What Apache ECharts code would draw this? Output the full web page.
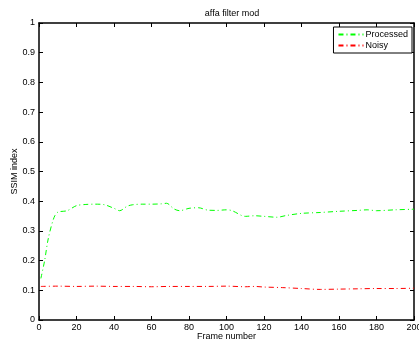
<!DOCTYPE html>
<html><head><meta charset="utf-8">
<script src="https://cdn.jsdelivr.net/npm/echarts@6/dist/echarts.min.js"></script>
<style>html,body{margin:0;padding:0;background:#fff}#c{width:419px;height:344px}</style>
</head><body><div id="c"></div>
<script>
const titleText = "affa filter mod";
const xLabel = "Frame number";
const yLabel = "SSIM index";
const procFrames = [1, 3, 5, 8, 10, 15, 20, 25, 30, 35, 40, 43, 47, 50, 55, 60, 65, 68, 72, 75, 80, 85, 90, 95, 100, 103, 108, 110, 115, 120, 127, 132, 140, 150, 160, 170, 175, 180, 190, 200];
const procValues = [0.14, 0.2, 0.276, 0.345, 0.363, 0.368, 0.385, 0.389, 0.39, 0.388, 0.376, 0.368, 0.383, 0.388, 0.39, 0.39, 0.391, 0.393, 0.374, 0.368, 0.376, 0.378, 0.37, 0.369, 0.371, 0.368, 0.352, 0.349, 0.351, 0.349, 0.346, 0.352, 0.359, 0.362, 0.366, 0.369, 0.371, 0.368, 0.371, 0.373];
const noisyFrames = [1, 10, 20, 30, 40, 50, 60, 70, 80, 90, 100, 110, 115, 120, 130, 140, 150, 160, 170, 180, 190, 200];
const noisyValues = [0.113, 0.114, 0.113, 0.114, 0.113, 0.113, 0.112, 0.113, 0.113, 0.113, 0.114, 0.112, 0.113, 0.111, 0.109, 0.106, 0.103, 0.104, 0.105, 0.106, 0.106, 0.107];
const seriesNames = ["Processed", "Noisy"];

const font = "Liberation Sans, Arial, Helvetica, sans-serif";
const dash = [5, 3, 1, 3];
const chart = echarts.init(document.getElementById('c'), null, {renderer: 'canvas'});
function axisStyle() {
  return {
    axisLine: {show: true, onZero: false, lineStyle: {color: '#000', width: 1.5}},
    axisTick: {show: true, inside: true, length: 4, lineStyle: {color: '#000', width: 1}},
    splitLine: {show: false}
  };
}
chart.setOption({
  animation: false,
  backgroundColor: '#fff',
  title: {text: titleText, left: 227, top: 4, textAlign: 'center',
    textStyle: {fontFamily: font, fontSize: 9, fontWeight: 'normal', color: '#000'}},
  grid: {left: 39, right: 5, top: 23, bottom: 24, containLabel: false, outerBoundsMode: 'none'},
  legend: {
    orient: 'vertical', right: 7, top: 27, padding: [3, 4, 3, 4], itemGap: 2,
    itemWidth: 25, itemHeight: 8, borderColor: '#000', borderWidth: 1, backgroundColor: '#fff',
    itemStyle: {opacity: 0},
    textStyle: {fontFamily: font, fontSize: 9, color: '#000', padding: [0, 0, 0, -3]},
    data: seriesNames
  },
  xAxis: [
    Object.assign({type: 'value', min: 0, max: 200, interval: 20, position: 'bottom',
      name: xLabel, nameLocation: 'middle', nameGap: 12, nameMoveOverlap: false,
      nameTextStyle: {fontFamily: font, fontSize: 9, color: '#000'},
      axisLabel: {fontFamily: font, fontSize: 9, color: '#000', margin: 3}}, axisStyle()),
    Object.assign({type: 'value', min: 0, max: 200, interval: 20, position: 'top',
      axisLabel: {show: false}}, axisStyle())
  ],
  yAxis: [
    Object.assign({type: 'value', min: 0, max: 1, interval: 0.1, position: 'left',
      name: yLabel, nameLocation: 'middle', nameGap: 20, nameMoveOverlap: false,
      nameTextStyle: {fontFamily: font, fontSize: 9, color: '#000'},
      axisLabel: {fontFamily: font, fontSize: 9, color: '#000', margin: 4,
        formatter: v => String(Math.round(v * 10) / 10)}}, axisStyle()),
    Object.assign({type: 'value', min: 0, max: 1, interval: 0.1, position: 'right',
      axisLabel: {show: false}}, axisStyle())
  ],
  series: [
    {name: seriesNames[0], type: 'line', showSymbol: false, symbol: 'none', smooth: 0.3,
      data: procFrames.map((f, i) => [f, procValues[i]]),
      itemStyle: {color: '#00ff00'},
      lineStyle: {color: '#00ff00', width: 1, type: dash}},
    {name: seriesNames[1], type: 'line', showSymbol: false, symbol: 'none', smooth: 0.3,
      data: noisyFrames.map((f, i) => [f, noisyValues[i]]),
      itemStyle: {color: '#ff0000'},
      lineStyle: {color: '#ff0000', width: 1, type: dash}}
  ]
});
</script></body></html>
